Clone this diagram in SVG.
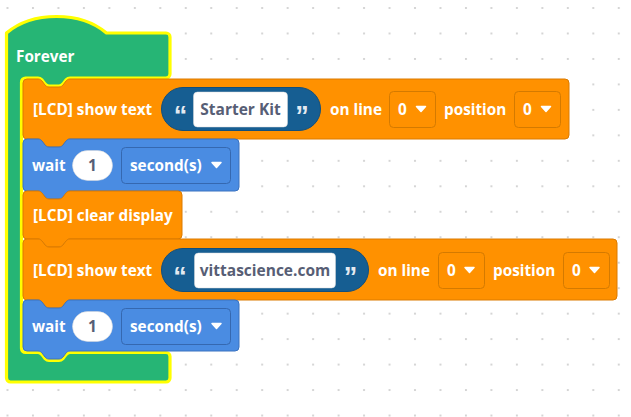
<svg xmlns="http://www.w3.org/2000/svg" xmlns:xlink="http://www.w3.org/1999/xlink" width="631" height="417" viewBox="0 0 631 417">
<defs>
<pattern id="grid" patternUnits="userSpaceOnUse" x="-5.235" y="-4.735" width="25.47" height="25.47">
<circle cx="12.735" cy="12.735" r="1.1" fill="#cccccc"/>
</pattern>
<path id="tri" d="M0,0 h9 l-4.5,5 z" fill="#ffffff" stroke="#ffffff" stroke-width="1.5" stroke-linejoin="round"/>
</defs>
<style>
.lbl{font-family:"Open Sans","Noto Sans",sans-serif;font-weight:700;font-size:15.3px;fill:#ffffff}
.fld{font-family:"Open Sans","Noto Sans",sans-serif;font-weight:700;font-size:15.5px;fill:#575E75}
.quote{font-family:"Liberation Sans",Arial,sans-serif;font-weight:700;font-size:27px;fill:#E4EAF1}
.orange{fill:#FF9100;stroke:#DB7B00;stroke-width:1}
.blue{fill:#4A8CE2;stroke:#3A72C0;stroke-width:1}
.ddo{fill:#FF9100;stroke:#D47A00;stroke-width:1}
.ddb{fill:#4A8CE2;stroke:#3568B0;stroke-width:1}
.pill{fill:#165E92;stroke:#124F7C;stroke-width:1}
.white{fill:#ffffff;stroke:#d8d8d8;stroke-width:0.5}
</style>
<rect x="0" y="0" width="631" height="417" fill="#ffffff"/>
<rect x="0" y="0" width="631" height="417" fill="url(#grid)"/>

<g id="forever">
<path d="M 6.5,33 c 26,-22 74,-22 100,0 H 166 a4,4 0 0 1 4,4 V 74 a4,4 0 0 1 -4,4 H 70 c -2,0 -3,1 -4,2 l -3,4 c -1,1 -2,2 -4,2 h -10 c -2,0 -3,-1 -4,-2 l -3,-4 c -1,-1 -2,-2 -4,-2 H 25.5 a4,4 0 0 0 -4,4 V 348.5 a4,4 0 0 0 4,4 H 38 c 2,0 3,1 4,2 l 3,4 c 1,1 2,2 4,2 h 10 c 2,0 3,-1 4,-2 l 3,-4 c 1,-1 2,-2 4,-2 H 166 a4,4 0 0 1 4,4 V 378 a4,4 0 0 1 -4,4 H 10.5 a4,4 0 0 1 -4,-4 Z" fill="#26B575" stroke="#FFFF00" stroke-width="3.2" stroke-linejoin="round"/>
<text class="lbl" x="16" y="62">Forever</text>
</g>

<g id="lcd1">
<path class="orange" d="M 23,83 a4,4 0 0 1 4,-4 H 38 c 2,0 3,1 4,2 l 3,4 c 1,1 2,2 4,2 h 10 c 2,0 3,-1 4,-2 l 3,-4 c 1,-1 2,-2 4,-2 H 565 a4,4 0 0 1 4,4 V 135 a4,4 0 0 1 -4,4 H 70 c -2,0 -3,1 -4,2 l -3,4 c -1,1 -2,2 -4,2 h -10 c -2,0 -3,-1 -4,-2 l -3,-4 c -1,-1 -2,-2 -4,-2 H 27 a4,4 0 0 1 -4,-4 Z"/>
<text class="lbl" x="33" y="115">[LCD] show text</text>
<rect class="pill" x="161.5" y="87.5" width="159" height="43" rx="21.5"/>
<text class="quote" x="180.5" y="125" text-anchor="middle">“</text>
<rect class="white" x="193.5" y="92" width="94" height="35" rx="4"/>
<text class="fld" x="240.5" y="115" text-anchor="middle">Starter Kit</text>
<text class="quote" x="302" y="125" text-anchor="middle">”</text>
<text class="lbl" x="330" y="115">on line</text>
<rect class="ddo" x="389.5" y="91.5" width="46" height="36" rx="4"/>
<text class="lbl" x="398" y="115">0</text>
<use href="#tri" x="416.5" y="106.5"/>
<text class="lbl" x="444" y="115">position</text>
<rect class="ddo" x="514.5" y="91.5" width="46" height="36" rx="4"/>
<text class="lbl" x="523" y="115">0</text>
<use href="#tri" x="541.5" y="106.5"/>
</g>

<g id="wait1">
<path class="blue" d="M 23,143 a4,4 0 0 1 4,-4 H 38 c 2,0 3,1 4,2 l 3,4 c 1,1 2,2 4,2 h 10 c 2,0 3,-1 4,-2 l 3,-4 c 1,-1 2,-2 4,-2 H 235 a4,4 0 0 1 4,4 V 187 a4,4 0 0 1 -4,4 H 70 c -2,0 -3,1 -4,2 l -3,4 c -1,1 -2,2 -4,2 h -10 c -2,0 -3,-1 -4,-2 l -3,-4 c -1,-1 -2,-2 -4,-2 H 27 a4,4 0 0 1 -4,-4 Z"/>
<text class="lbl" x="32" y="171">wait</text>
<rect class="white" x="72.5" y="150.5" width="40" height="30" rx="15"/>
<text class="fld" x="92.5" y="171" text-anchor="middle">1</text>
<rect class="ddb" x="121.5" y="147.5" width="109" height="36" rx="4"/>
<text class="lbl" x="130" y="171">second(s)</text>
<use href="#tri" x="212" y="162.5"/>
</g>

<g id="clear">
<path class="orange" d="M 23,195 a4,4 0 0 1 4,-4 H 38 c 2,0 3,1 4,2 l 3,4 c 1,1 2,2 4,2 h 10 c 2,0 3,-1 4,-2 l 3,-4 c 1,-1 2,-2 4,-2 H 178 a4,4 0 0 1 4,4 V 235 a4,4 0 0 1 -4,4 H 70 c -2,0 -3,1 -4,2 l -3,4 c -1,1 -2,2 -4,2 h -10 c -2,0 -3,-1 -4,-2 l -3,-4 c -1,-1 -2,-2 -4,-2 H 27 a4,4 0 0 1 -4,-4 Z"/>
<text class="lbl" x="33" y="221">[LCD] clear display</text>
</g>

<g id="lcd2">
<path class="orange" d="M 23,243 a4,4 0 0 1 4,-4 H 38 c 2,0 3,1 4,2 l 3,4 c 1,1 2,2 4,2 h 10 c 2,0 3,-1 4,-2 l 3,-4 c 1,-1 2,-2 4,-2 H 613 a4,4 0 0 1 4,4 V 296 a4,4 0 0 1 -4,4 H 70 c -2,0 -3,1 -4,2 l -3,4 c -1,1 -2,2 -4,2 h -10 c -2,0 -3,-1 -4,-2 l -3,-4 c -1,-1 -2,-2 -4,-2 H 27 a4,4 0 0 1 -4,-4 Z"/>
<text class="lbl" x="33" y="276">[LCD] show text</text>
<rect class="pill" x="161.5" y="248.5" width="207" height="43" rx="21.5"/>
<text class="quote" x="180" y="286" text-anchor="middle">“</text>
<rect class="white" x="194.5" y="253" width="141" height="35" rx="4"/>
<text class="fld" x="265" y="276" text-anchor="middle">vittascience.com</text>
<text class="quote" x="350.5" y="286" text-anchor="middle">”</text>
<text class="lbl" x="378" y="276">on line</text>
<rect class="ddo" x="438.5" y="252.5" width="46" height="36" rx="4"/>
<text class="lbl" x="447" y="276">0</text>
<use href="#tri" x="465" y="267.5"/>
<text class="lbl" x="493" y="276">position</text>
<rect class="ddo" x="563.5" y="252.5" width="46" height="36" rx="4"/>
<text class="lbl" x="572" y="276">0</text>
<use href="#tri" x="590" y="267.5"/>
</g>

<g id="wait2">
<path class="blue" d="M 23,304 a4,4 0 0 1 4,-4 H 38 c 2,0 3,1 4,2 l 3,4 c 1,1 2,2 4,2 h 10 c 2,0 3,-1 4,-2 l 3,-4 c 1,-1 2,-2 4,-2 H 235 a4,4 0 0 1 4,4 V 347 a4,4 0 0 1 -4,4 H 70 c -2,0 -3,1 -4,2 l -3,4 c -1,1 -2,2 -4,2 h -10 c -2,0 -3,-1 -4,-2 l -3,-4 c -1,-1 -2,-2 -4,-2 H 27 a4,4 0 0 1 -4,-4 Z"/>
<text class="lbl" x="32" y="332">wait</text>
<rect class="white" x="72.5" y="311.5" width="40" height="30" rx="15"/>
<text class="fld" x="92.5" y="332" text-anchor="middle">1</text>
<rect class="ddb" x="121.5" y="308.5" width="109" height="36" rx="4"/>
<text class="lbl" x="130" y="332">second(s)</text>
<use href="#tri" x="212" y="323.5"/>
</g>

<g id="connectors"></g>
</svg>
